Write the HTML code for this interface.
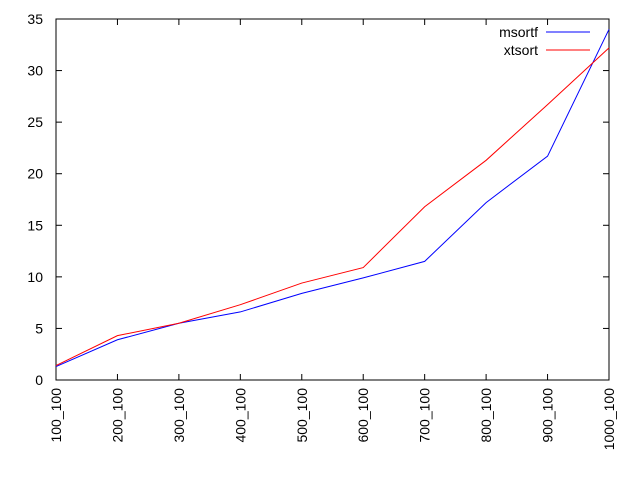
<!DOCTYPE html>
<html><head><meta charset="utf-8"><style>
html,body{margin:0;padding:0;background:#fff;}
svg{display:block;font-family:"Liberation Sans",sans-serif;font-size:14px;}
</style></head><body>
<svg id="chart" width="640" height="480" viewBox="0 0 640 480"></svg>
<script>
const categories=["100_100","200_100","300_100","400_100","500_100","600_100","700_100","800_100","900_100","1000_100"];
const msortf=[1.3,3.9,5.5,6.6,8.4,9.9,11.5,17.2,21.7,34.0];
const xtsort=[1.4,4.3,5.5,7.3,9.4,10.9,16.8,21.3,26.7,32.2];
const yTicks=[0,5,10,15,20,25,30,35];
const NS="http://www.w3.org/2000/svg";
const svg=document.getElementById('chart');
const L=56,R=609,T=19,B=380,yMax=35;
function xs(i){return L+i*(R-L)/(categories.length-1);}
function ys(v){return B-v*(B-T)/yMax;}
function mk(tag,attrs,parent){const e=document.createElementNS(NS,tag);for(const k in attrs)e.setAttribute(k,attrs[k]);(parent||svg).appendChild(e);return e;}
const frame=mk('rect',{x:L,y:T,width:R-L,height:B-T,fill:'none',stroke:'#000','stroke-width':1});


yTicks.forEach(t=>{
  const y=ys(t);
  const l1=mk('line',{x1:L,x2:L+6,y1:y,y2:y,stroke:'#000'});
  
  
  mk('line',{x1:R-6,x2:R,y1:y,y2:y,stroke:'#000'});
  const tx=mk('text',{x:L-13,y:y+5,'text-anchor':'end'});
  tx.textContent=t;
  
  
});
categories.forEach((c,i)=>{
  const x=xs(i);
  const l=mk('line',{x1:x,x2:x,y1:B,y2:B-6,stroke:'#000'});
  
  
  mk('line',{x1:x,x2:x,y1:T,y2:T+6,stroke:'#000'});
  const tx=mk('text',{x:x+5,y:B+8,'text-anchor':'end',transform:`rotate(-90 ${x+5} ${B+8})`});
  tx.textContent=c;
  
  
});
function series(vals,color,name){
  const p=mk('polyline',{points:vals.map((v,i)=>xs(i)+','+ys(v)).join(' '),fill:'none',stroke:color,'stroke-width':1});
  
  
}
series(msortf,'#0000ff','msortf-line');
series(xtsort,'#ff0000','xtsort-line');
[['msortf','#0000ff',32],['xtsort','#ff0000',50]].forEach(([n,c,y])=>{
  const g=mk('g',{});
  
  
  const t=mk('text',{x:538,y:y+5,'text-anchor':'end'},g);
  t.textContent=n;
  mk('line',{x1:546,x2:590,y1:y,y2:y,stroke:c},g);
});
</script>
</body></html>
